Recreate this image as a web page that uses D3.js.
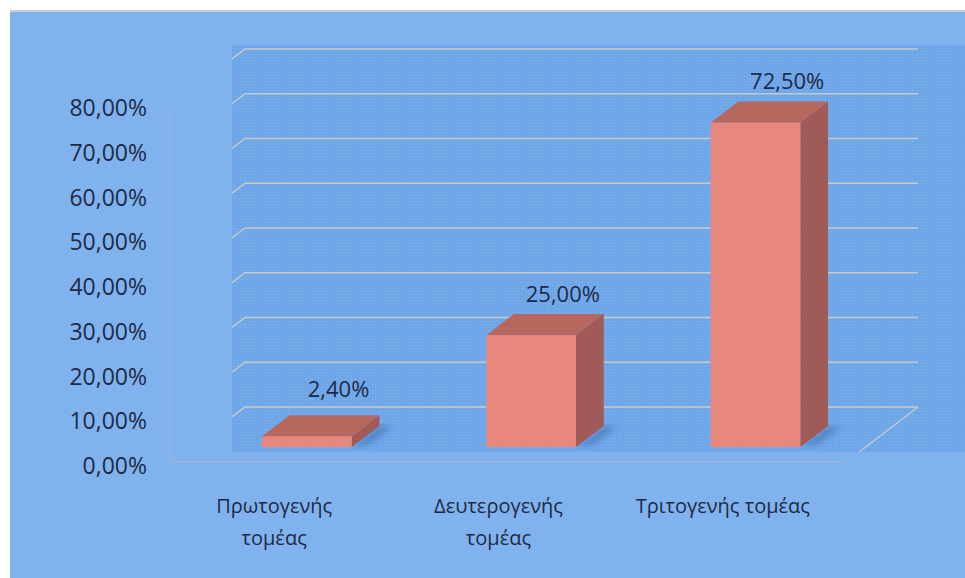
<!DOCTYPE html>
<html>
<head>
<meta charset="utf-8">
<script src="https://cdn.jsdelivr.net/npm/d3@7"></script>
<style>
  html, body { margin: 0; padding: 0; background: #fff; }
  svg { display: block; }
  text { font-family: "Open Sans", "Noto Sans", sans-serif; fill: #1e2a44; }
</style>
</head>
<body>
<svg id="chart" width="965" height="578"></svg>
<script>
// data
const categories = ["Πρωτογενής τομέας", "Δευτερογενής τομέας", "Τριτογενής τομέας"];
const categoryLines = [["Πρωτογενής", "τομέας"], ["Δευτερογενής", "τομέας"], ["Τριτογενής τομέας"]];
const values = [2.4, 25.0, 72.5];
const yTicks = [0, 10, 20, 30, 40, 50, 60, 70, 80];

const W = 965, H = 578;
const DX = 77, DY = 59;          // depth vector, front -> back wall
const zFront = 0.32, zBack = 0.68; // depth of the bars

const svg = d3.select("#chart");

const x = d3.scaleBand()
    .domain(categories)
    .range([168, 841])
    .padding(0);

const y = d3.scaleLinear()
    .domain([0, 80])
    .range([466, 108]);

const pct = v => d3.format(".2f")(v).replace(".", ",") + "%";

// projection: front-plane x, value, depth z
function p(px, v, z) {
    return [px + z * DX, y(v) - z * DY];
}

const defs = svg.append("defs");
defs.append("clipPath").attr("id", "wallClip")
    .append("rect").attr("x", 232).attr("y", 45).attr("width", W - 232).attr("height", 407);
defs.append("filter").attr("id", "blur")
    .append("feGaussianBlur").attr("stdDeviation", 3);
const tex = defs.append("pattern").attr("id", "tex")
    .attr("width", 3).attr("height", 3).attr("patternUnits", "userSpaceOnUse");
tex.append("rect").attr("width", 3).attr("height", 3).attr("fill", "#6ea6e8");
tex.append("rect").attr("width", 1).attr("height", 1).attr("fill", "#80b3ee");

// chart area
svg.append("rect")
    .attr("x", 10).attr("y", 10).attr("width", W - 10).attr("height", 3)
    .attr("fill", "#c9ced6");
svg.append("rect")
    .attr("x", 10).attr("y", 12).attr("width", W - 10).attr("height", H - 12)
    .attr("fill", "#80b3ee");

// plot area (the textured wall)
svg.append("rect")
    .attr("x", 232).attr("y", 45).attr("width", W - 232).attr("height", 407)
    .attr("fill", "url(#tex)");

const wall = svg.append("g").attr("clip-path", "url(#wallClip)");
const line = d3.line();

// gridlines on back wall and side wall
yTicks.forEach(t => {
    const pts = [p(168, t, 0), p(168, t, 1), p(841, t, 1)];
    wall.append("path")
        .attr("d", line(pts))
        .attr("fill", "none")
        .attr("stroke", "#c8cac8")
        .attr("stroke-width", 1.4);
});
// floor right edge
wall.append("path")
    .attr("d", line([p(841, 0, 1), p(841, 0, 0)]))
    .attr("fill", "none")
    .attr("stroke", "#c8cac8")
    .attr("stroke-width", 1.4);

// faint front axis lines
svg.append("line")
    .attr("x1", 170).attr("x2", 170)
    .attr("y1", y(80)).attr("y2", y(0) - 4)
    .attr("stroke", "#9ab8dc").attr("stroke-width", 2).attr("opacity", 0.6);
svg.append("line")
    .attr("x1", 170).attr("x2", 841)
    .attr("y1", y(0) - 4).attr("y2", y(0) - 4)
    .attr("stroke", "#a8b4d8").attr("stroke-width", 2).attr("opacity", 0.5);

// bars
const barW = x.bandwidth() * 0.4;
const bars = svg.append("g");

categories.forEach((c, i) => {
    const v = values[i];
    const x0 = x(c) + (x.bandwidth() - barW) / 2 + 2;
    const x1 = x0 + barW;

    // shadow on floor
    bars.append("path")
        .attr("d", line([p(x1, 0, zFront), p(x1 + 14, 0, zFront + 0.05), p(x1 + 14, 0, zBack), p(x1, 0, zBack)]) + "Z")
        .attr("fill", "#2f5e9c").attr("opacity", 0.45).attr("filter", "url(#blur)");

    // side face
    bars.append("path")
        .attr("d", line([p(x1, 0, zFront), p(x1, 0, zBack), p(x1, v, zBack), p(x1, v, zFront)]) + "Z")
        .attr("fill", "#a05a58");
    // top face
    bars.append("path")
        .attr("d", line([p(x0, v, zFront), p(x1, v, zFront), p(x1, v, zBack), p(x0, v, zBack)]) + "Z")
        .attr("fill", "#b8675f");
    // front face
    const [fx, fy] = p(x0, v, zFront);
    const [, fy0] = p(x0, 0, zFront);
    bars.append("rect")
        .attr("x", fx).attr("y", fy)
        .attr("width", barW).attr("height", fy0 - fy)
        .attr("fill", "#e8877e");

    // data label
    const [lx, ly] = p(x0 + barW / 2 + 4, v, zBack);
    svg.append("text")
        .attr("x", lx).attr("y", ly - (v < 5 ? 18 : 12))
        .attr("text-anchor", "middle")
        .attr("font-size", 22)
        .text(pct(v));
});

// y axis labels (front plane)
yTicks.forEach(t => {
    svg.append("text")
        .attr("x", 147).attr("y", y(t) + 8)
        .attr("text-anchor", "end")
        .attr("font-size", 23)
        .text(pct(t));
});

// category labels
categories.forEach((c, i) => {
    const t = svg.append("text")
        .attr("text-anchor", "middle")
        .attr("font-size", 20);
    categoryLines[i].forEach((ln, k) => {
        t.append("tspan")
            .attr("x", x(c) + x.bandwidth() / 2 - 6)
            .attr("y", 513 + k * 32)
            .text(ln);
    });
});
</script>
</body>
</html>
